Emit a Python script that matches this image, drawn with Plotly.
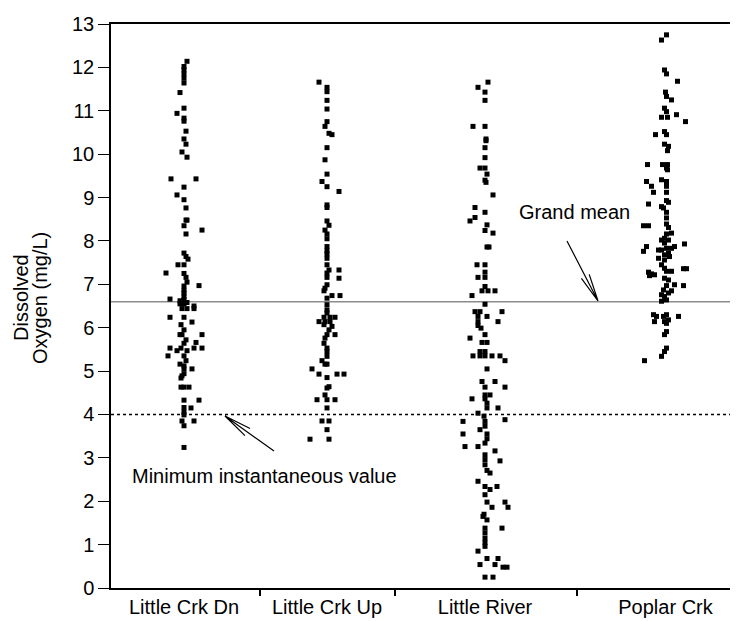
import math
import plotly.graph_objects as go

# ---------------- data ----------------
categories = ["Little Crk Dn", "Little Crk Up", "Little River", "Poplar Crk"]

dn_values = [12.14, 12.02, 11.94, 11.85, 11.75, 11.64, 11.42, 11.06, 10.94, 10.83,
             10.76, 10.53, 10.35, 10.23, 10.05, 9.93, 9.43, 9.43, 9.24, 9.06,
             8.95, 8.76, 8.48, 8.48, 8.35, 8.25, 8.16, 7.72, 7.64, 7.58,
             7.45, 7.45, 7.26, 7.25, 7.16, 7.05, 6.97, 6.96, 6.86, 6.80,
             6.72, 6.66, 6.65, 6.62, 6.58, 6.50, 6.55, 6.55, 6.44, 6.44,
             6.44, 6.24, 6.24, 6.13, 6.07, 5.95, 5.84, 5.84, 5.84, 5.72,
             5.66, 5.64, 5.53, 5.53, 5.53, 5.53, 5.47, 5.47, 5.35, 5.35,
             5.24, 5.16, 5.12, 5.05, 5.05, 4.94, 4.89, 4.84, 4.63, 4.63,
             4.63, 4.33, 4.33, 4.16, 4.15, 4.05, 3.99, 3.85, 3.85, 3.74, 3.24]
dn_jitter = [3, 0, 0, 0, 0, 0, -4, 0, -7, 0,
             0, 2, 0, 2, -2, 3, -13, 12, 0, -7,
             0, 2, 2, 3, 0, 18, 2, 0, 2, 4,
             -6, 0, -18, 0, 2, 3, 15, 0, 0, 0,
             0, -14, 0, -4, 3, 10, -4, 0, -2, 3,
             10, -14, 0, 8, -3, 0, -2, -4, 18, 2,
             12, 0, -14, -3, 10, 18, 3, -7, -16, 0,
             2, -4, 0, 8, 0, 0, -2, -3, -3, 0,
             5, 0, 15, 0, 7, 0, 0, -2, 10, 0, 0]

up_values = [11.66, 11.54, 11.44, 11.24, 11.04, 10.75, 10.64, 10.48, 10.45, 10.15,
             9.87, 9.54, 9.37, 9.25, 9.14, 8.83, 8.77, 8.46, 8.36, 8.25,
             8.16, 8.05, 7.87, 7.77, 7.70, 7.60, 7.45, 7.33, 7.33, 7.26,
             7.16, 7.14, 6.99, 6.91, 6.85, 6.74, 6.74, 6.68, 6.53, 6.41,
             6.34, 6.24, 6.24, 6.24, 6.14, 6.14, 6.14, 6.07, 6.03, 5.95,
             5.84, 5.84, 5.76, 5.64, 5.53, 5.45, 5.34, 5.24, 5.16, 5.16,
             5.05, 4.93, 4.93, 4.93, 4.85, 4.64, 4.61, 4.45, 4.34, 4.34,
             4.34, 4.15, 3.85, 3.85, 3.65, 3.43, 3.43]
up_jitter = [-8, 0, 0, 0, 0, 0, -2, 2, 5, 0,
             -2, 0, -5, 0, 12, 0, 0, 0, 2, -2,
             0, 0, 0, 0, 0, 0, 0, 2, 12, 0,
             0, 12, 0, -2, -3, 5, 13, 0, 0, 0,
             0, -3, 3, 8, -8, -2, 3, -3, 5, 2,
             0, 8, -2, -3, 0, 0, 0, -5, -2, 0,
             -15, -8, 10, 17, 0, 2, 0, -2, -10, 0,
             8, 0, -5, 2, 0, -17, 2]

river_values = [11.66, 11.54, 11.43, 11.24, 10.64, 10.64, 10.35, 10.31, 10.15, 9.92,
                9.68, 9.68, 9.54, 9.40, 9.35, 9.06, 8.77, 8.66, 8.54, 8.46,
                8.37, 8.24, 8.18, 7.86, 7.86, 7.45, 7.45, 7.28, 7.16, 7.16,
                6.95, 6.85, 6.85, 6.85, 6.74, 6.54, 6.37, 6.37, 6.37, 6.26,
                6.26, 6.14, 6.14, 6.05, 5.99, 5.84, 5.76, 5.66, 5.66, 5.45,
                5.45, 5.35, 5.35, 5.35, 5.35, 5.35, 5.24, 5.05, 4.76, 4.76,
                4.63, 4.63, 4.45, 4.45, 4.36, 4.36, 4.26, 4.15, 4.15, 4.03,
                3.96, 3.88, 3.84, 3.84, 3.73, 3.65, 3.55, 3.55, 3.44, 3.34,
                3.26, 3.26, 3.16, 3.07, 2.96, 2.93, 2.84, 2.71, 2.65, 2.46,
                2.34, 2.34, 2.27, 2.15, 1.98, 1.98, 1.86, 1.86, 1.70, 1.65,
                1.57, 1.38, 1.38, 1.27, 1.15, 1.05, 0.96, 0.85, 0.68, 0.68,
                0.54, 0.54, 0.48, 0.48, 0.25, 0.25]
river_jitter = [3, -7, 0, 0, -12, 0, 1, 1, 0, 0,
                -5, 0, 2, 0, 1, 8, -10, 0, -10, -15,
                2, 0, 8, 2, 4, -8, 0, 0, -7, 0,
                0, -3, 3, 10, -13, 0, -10, -5, 17, -7,
                2, 13, -7, -7, -4, 0, -15, -3, 2, -5,
                0, -12, -5, 0, 7, 15, 20, 2, -3, 10,
                0, 20, 0, 5, -13, 0, 2, 13, 2, -7,
                -1, 20, -22, 0, 0, -5, -22, 2, 2, 0,
                -7, -20, 10, 0, 0, 15, 0, 2, 5, -7,
                0, 12, 5, 0, 2, 20, 23, 7, -1, -2,
                2, 0, 17, 0, 0, 0, 0, -7, 2, 13,
                -5, 10, 18, 22, 0, 8]

poplar_values = [12.75, 12.63, 11.94, 11.85, 11.68, 11.43, 11.33, 11.25, 11.06, 10.98,
                 10.91, 10.85, 10.85, 10.75, 10.52, 10.45, 10.45, 10.23, 10.18, 10.08,
                 9.76, 9.76, 9.76, 9.68, 9.64, 9.41, 9.37, 9.37, 9.26, 9.26,
                 9.12, 9.12, 8.93, 8.89, 8.85, 8.79, 8.76, 8.66, 8.53, 8.39,
                 8.35, 8.35, 8.31, 8.18, 8.16, 8.06, 8.02, 8.02, 7.95, 7.93,
                 7.87, 7.87, 7.83, 7.83, 7.79, 7.79, 7.76, 7.72, 7.68, 7.64,
                 7.60, 7.56, 7.45, 7.37, 7.30, 7.30, 7.36, 7.36, 7.28, 7.24,
                 7.22, 7.20, 7.14, 7.10, 6.99, 6.97, 6.97, 6.87, 6.85, 6.80,
                 6.76, 6.72, 6.64, 6.61, 6.30, 6.30, 6.26, 6.26, 6.26, 6.18,
                 6.14, 6.14, 6.10, 5.91, 5.84, 5.53, 5.45, 5.34, 5.24]
poplar_jitter = [1, -4, -1, 1, 12, 0, 1, 6, -1, 1,
                 11, -4, 2, 20, -1, 1, -10, -1, 3, 2,
                 -18, -3, 2, 1, 2, -4, -19, 1, -14, 1,
                 -12, 1, 1, 3, -17, -4, -2, 1, 1, 1,
                 -22, -17, 3, 6, 1, -1, -4, 3, -1, 19,
                 -19, 9, 1, 6, -7, -4, -22, 3, -1, 4,
                 -7, -1, -4, -1, 1, 6, 18, 21, -17, -14,
                 -11, -16, -1, 3, 9, 1, 18, -2, 6, 3,
                 -4, -1, 1, -4, -12, 1, -9, -2, 13, 3,
                 -11, -1, 1, 1, -1, 1, -1, -4, -21]

grand_mean = 6.6
minimum_value = 4.0
y_ticks = list(range(0, 14))

# ---------------- layout constants ----------------
FIG_W, FIG_H = 738, 621
M_L, M_R, M_T, M_B = 103, 0, 16, 41
PLOT_W = FIG_W - M_L - M_R
PLOT_H = FIG_H - M_T - M_B
Y_MAX = 13
cat_pos = [73, 216, 374, 554.5]          # category centres on the x axis
band_edges = [149.3, 283.7, 465.7]       # tick marks between categories
FONT = "Liberation Sans, Arial, sans-serif"


def px_to_data(px, py):
    return px - M_L, (M_T + PLOT_H - py) * Y_MAX / PLOT_H


def arrow_path(tail, tip, head_len=28, head_deg=9):
    ang = math.atan2(tail[1] - tip[1], tail[0] - tip[0])
    pts = []
    for s in (1, -1):
        a = ang + s * math.radians(head_deg)
        pts.append((tip[0] + head_len * math.cos(a), tip[1] + head_len * math.sin(a)))
    t = px_to_data(*tail)
    p = px_to_data(*tip)
    b1 = px_to_data(*pts[0])
    b2 = px_to_data(*pts[1])
    return (f"M {t[0]},{t[1]} L {p[0]},{p[1]} "
            f"M {b1[0]},{b1[1]} L {p[0]},{p[1]} L {b2[0]},{b2[1]}")


fig = go.Figure()
groups = [(dn_values, dn_jitter), (up_values, up_jitter),
          (river_values, river_jitter), (poplar_values, poplar_jitter)]
for name, pos, (vals, jit) in zip(categories, cat_pos, groups):
    fig.add_trace(go.Scatter(
        x=[pos + j for j in jit], y=vals, mode="markers", name=name,
        marker=dict(symbol="square", size=5, color="black", line=dict(width=0)),
        showlegend=False, hoverinfo="y"))

shapes = [
    dict(type="line", xref="paper", yref="y", x0=0, x1=1, y0=grand_mean, y1=grand_mean,
         line=dict(color="#8c8c8c", width=1.5), layer="below"),
    dict(type="line", xref="paper", yref="y", x0=0, x1=1, y0=minimum_value, y1=minimum_value,
         line=dict(color="black", width=1.5, dash="dot"), layer="below"),
    dict(type="path", xref="x", yref="y", path=arrow_path((559, 233), (590, 293)),
         line=dict(color="black", width=1.2)),
    dict(type="path", xref="x", yref="y", path=arrow_path((266, 443), (217, 408)),
         line=dict(color="black", width=1.2)),
]

annotations = [
    dict(text="Grand mean", xref="x", yref="y",
         x=px_to_data(566, 0)[0], y=px_to_data(0, 204)[1],
         showarrow=False, xanchor="center", yanchor="middle",
         font=dict(family=FONT, size=20, color="black")),
    dict(text="Minimum instantaneous value", xref="x", yref="y",
         x=px_to_data(256, 0)[0], y=px_to_data(0, 468)[1],
         showarrow=False, xanchor="center", yanchor="middle",
         font=dict(family=FONT, size=20, color="black")),
    dict(text="Dissolved", xref="paper", yref="y",
         x=(13 - M_L) / PLOT_W, y=px_to_data(0, 290)[1], textangle=-90,
         showarrow=False, xanchor="center", yanchor="middle",
         font=dict(family=FONT, size=20, color="black")),
    dict(text="Oxygen (mg/L)", xref="paper", yref="y",
         x=(32 - M_L) / PLOT_W, y=px_to_data(0, 290)[1], textangle=-90,
         showarrow=False, xanchor="center", yanchor="middle",
         font=dict(family=FONT, size=20, color="black")),
]

fig.update_layout(
    width=FIG_W, height=FIG_H,
    margin=dict(l=M_L, r=M_R, t=M_T, b=M_B, pad=0),
    paper_bgcolor="white", plot_bgcolor="white",
    font=dict(family=FONT, size=20, color="black"),
    shapes=shapes, annotations=annotations,
    xaxis=dict(range=[0, PLOT_W], tickvals=cat_pos, ticktext=categories,
               ticks="", showgrid=False, zeroline=False,
               showline=True, linecolor="black", linewidth=1.5, mirror=True,
               tickfont=dict(family=FONT, size=20, color="black"),
               minor=dict(tickvals=band_edges, ticks="outside", ticklen=6,
                          tickcolor="black", tickwidth=1.5, showgrid=False)),
    yaxis=dict(range=[0, Y_MAX], tickvals=y_ticks, ticks="outside", ticklen=11,
               tickcolor="black", tickwidth=1.2, showgrid=False, zeroline=False,
               showline=True, linecolor="black", linewidth=1.5,
               tickfont=dict(family=FONT, size=20, color="black")),
)

fig.write_html("out.html")
